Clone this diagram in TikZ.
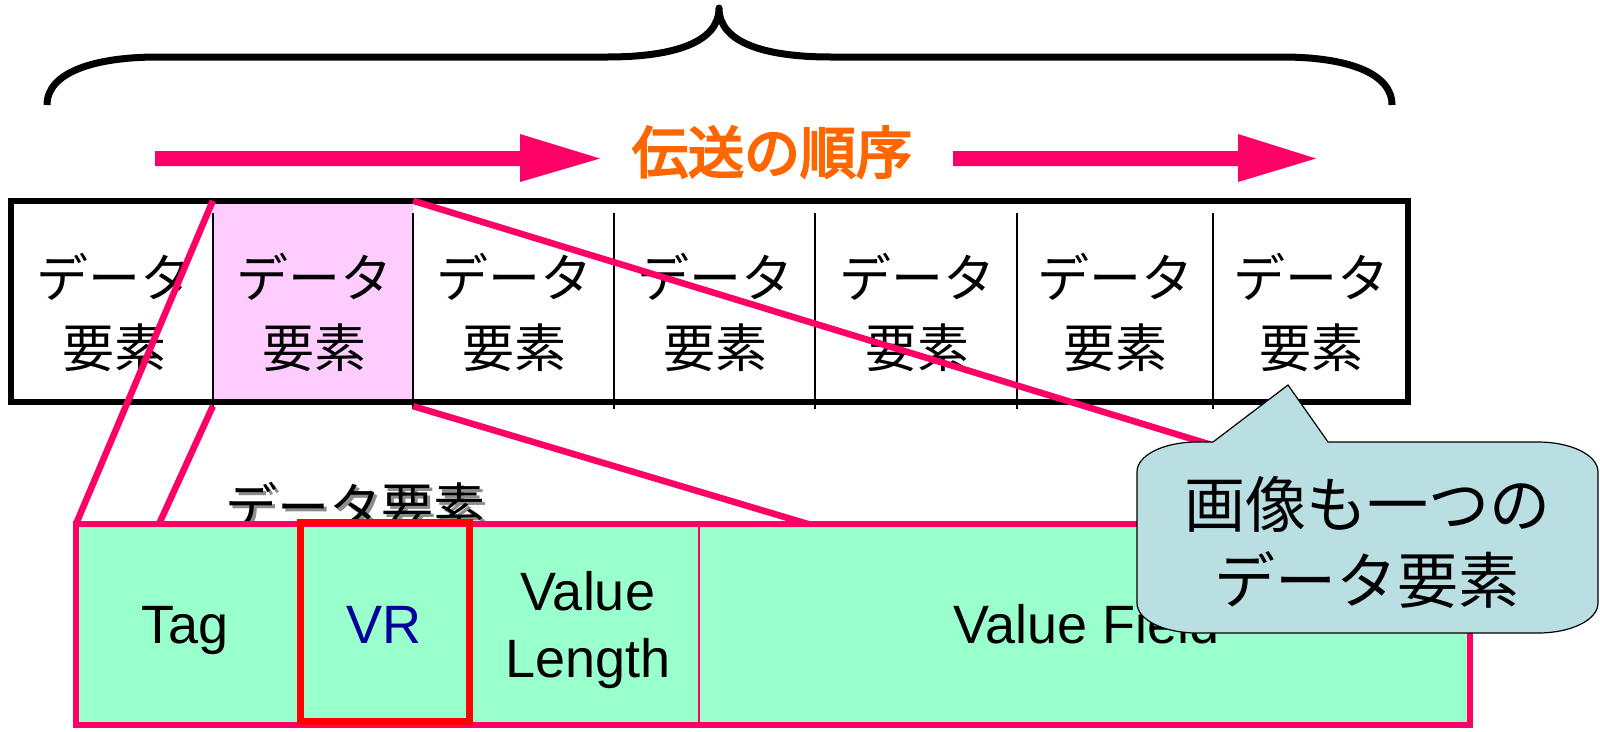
\documentclass[tikz,border=0pt]{standalone}
\usepackage{fontspec}
\setmainfont{Liberation Sans}
\newfontfamily\cjk{Noto Sans CJK JP}
\newfontfamily\cjkfb[FakeBold=4]{Noto Sans CJK JP}
\definecolor{pinkline}{HTML}{FF0066}
\definecolor{cellpink}{HTML}{FFCCFF}
\definecolor{fieldgreen}{HTML}{99FFCC}
\definecolor{redbox}{HTML}{FF0000}
\definecolor{navytxt}{HTML}{000099}
\definecolor{calloutfill}{HTML}{B9DFE3}
\definecolor{orangetxt}{HTML}{FF6600}
\begin{document}
\begin{tikzpicture}[x=1pt,y=-1pt,
  celltext/.style={font=\cjk\fontsize{52}{70}\selectfont, align=center, inner sep=0pt},
  cellbox/.style={minimum width=#1, minimum height=201pt, inner sep=0pt, draw=none},
  link/.style={draw=pinkline, line width=6.5pt},
  divider/.style={line width=1.5pt},
  field/.style={fill=fieldgreen, minimum width=#1, minimum height=201pt, inner sep=0pt},
  fieldtext/.style={font=\fontsize{54}{67}\selectfont, inner sep=0pt, anchor=base},
  arrowshape/.style={fill=pinkline, draw=none},
]
\useasboundingbox (0,0) rectangle (1600,731);

% brace
\draw[line width=7pt, line join=round]
  (47,105) .. controls (47,72) and (95,57) .. (158,57) -- (607,57)
  .. controls (675,57) and (719,42) .. (719,8)
  .. controls (719,42) and (763,57) .. (831,57) -- (1282,57)
  .. controls (1345,57) and (1392,72) .. (1392,105);

% transmission order arrows and title
\fill[arrowshape] (155,151) -- (520,151) -- (520,134) -- (600,158.5) -- (520,182) -- (520,166) -- (155,166) -- cycle;
\fill[arrowshape] (953,151) -- (1238,151) -- (1238,134) -- (1316,158.5) -- (1238,182) -- (1238,166) -- (953,166) -- cycle;
\node[font=\cjkfb\fontsize{56}{56}\selectfont, text=orangetxt, inner sep=0pt] (title) at (772,152) {伝送の順序};

% table cells
\node[cellbox=202pt] (c1) at (112,301.5) {};
\node[cellbox=200pt, fill=cellpink] (c2) at (313,301.5) {};
\node[cellbox=201pt] (c3) at (513.5,301.5) {};
\node[cellbox=201pt] (c4) at (714.5,301.5) {};
\node[cellbox=202pt] (c5) at (916,301.5) {};
\node[cellbox=196pt] (c6) at (1115,301.5) {};
\node[cellbox=195pt] (c7) at (1310.5,301.5) {};
\foreach \i/\x in {1/114,2/314,3/514,4/715,5/917,6/1115,7/1311}{
  \node[celltext] (t\i) at (\x,312) {データ\\要素};
}
\draw[line width=6pt] (11,201) rectangle (1408,402);
\foreach \x in {213,413,614,815,1017,1213}{
  \draw[divider] (\x,213) -- (\x,409);
}

% end points on the expanded element
\coordinate (boxnw) at (76,524);
\coordinate (l2end) at (159,524);
\coordinate (l4end) at (808,524);
\coordinate (boxne) at (1470,524);

% expansion lines
\draw[link] (c2.north west) -- (boxnw);
\draw[link] ([yshift=-4pt]c2.south west) -- (l2end);
\draw[link] (c2.north east) -- (boxne);
\draw[link] ([yshift=-4pt]c2.south east) -- (l4end);

% label above expanded element
\node[font=\cjk\fontsize{52}{52}\selectfont, text=black!45, inner sep=0pt] (lblshadow) at (358,509) {データ要素};
\node[font=\cjk\fontsize{52}{52}\selectfont, inner sep=0pt] (lbl) at (355,506) {データ要素};

% expanded data element
\node[field=224pt] (tag) at (188,624.5) {};
\node[field=169pt] (vr) at (384.5,624.5) {};
\node[field=230pt] (vl) at (584,624.5) {};
\node[field=771pt] (vf) at (1084.5,624.5) {};
\node[fieldtext] (tagtxt) at (185,643) {Tag};
\node[fieldtext, text=navytxt] (vrtxt) at (384,643) {VR};
\node[fieldtext] (vltxt1) at (588,610) {Value};
\node[fieldtext] (vltxt2) at (588,677) {Length};
\node[fieldtext] (vftxt) at (1087,643) {Value Field};
\draw[pinkline, line width=6pt] (tag.north west) rectangle (vf.south east);
\draw[pinkline, line width=2pt] (vl.north east) -- (vl.south east);
\draw[redbox, line width=7pt] (300,522) rectangle (469,721);

% callout
\draw[fill=calloutfill, line width=1.2pt]
  (1197,442) -- (1213,442) -- (1288,385) -- (1328,442) -- (1538,442)
  .. controls (1571,442) and (1598,455) .. (1598,472) -- (1598,603)
  .. controls (1598,620) and (1571,633) .. (1538,633) -- (1197,633)
  .. controls (1164,633) and (1137,620) .. (1137,603) -- (1137,472)
  .. controls (1137,455) and (1164,442) .. (1197,442) -- cycle;
\node[font=\cjk\fontsize{61}{76}\selectfont, align=center, inner sep=0pt] (note) at (1367,542) {画像も一つの\\データ要素};
\end{tikzpicture}
\end{document}
